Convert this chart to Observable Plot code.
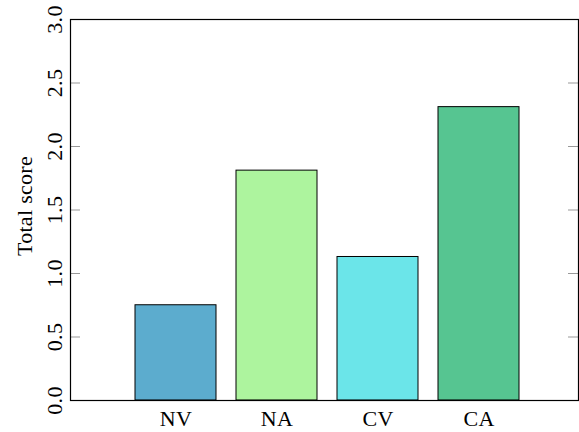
<!DOCTYPE html>
<html>
<head>
<meta charset="utf-8">
<script src="https://cdn.jsdelivr.net/npm/d3@7"></script>
<script src="https://cdn.jsdelivr.net/npm/@observablehq/plot@0.6"></script>
<style>
  html, body { margin: 0; padding: 0; background: #fff; }
  #chart svg { display: block; }
</style>
</head>
<body>
<div id="chart"></div>
<script>
// Total score per condition
const categories = ["NV", "NA", "CV", "CA"];
const scores = [0.75, 1.81, 1.13, 2.31];
const barColors = ["#5CACCE", "#ADF49E", "#6BE5E9", "#56C591"];
const yTicks = [0, 0.5, 1.0, 1.5, 2.0, 2.5, 3.0];
const yLabel = "Total score";

const data = categories.map((c, i) => ({category: c, score: scores[i]}));

const W = 579, H = 432;
const mL = 70, mR = 1, mT = 19, mB = 32;
const font = "'Liberation Serif', 'Times New Roman', serif";

const chart = Plot.plot({
  width: W,
  height: H,
  marginLeft: mL,
  marginRight: mR,
  marginTop: mT,
  marginBottom: mB,
  style: {fontFamily: font, fontSize: "22px", background: "#fff", color: "#000", letterSpacing: "0.3px"},
  x: {domain: categories, range: [123, 530], paddingInner: 0.2, paddingOuter: 0.1, axis: null},
  y: {domain: [0, 3], axis: null},
  color: {domain: categories, range: barColors},
  marks: [
    // bars
    Plot.barY(data, {x: "category", y: "score", fill: "category", stroke: "#000", strokeWidth: 1}),
    // inward tick marks on both sides
    Plot.tickY(yTicks, {y: d => d, stroke: "#999", strokeWidth: 1, insetRight: W - mL - mR - 10}),
    Plot.tickY(yTicks, {y: d => d, stroke: "#999", strokeWidth: 1, insetLeft: W - mL - mR - 10}),
    // rotated y tick labels
    Plot.text(yTicks, {
      y: d => d, text: d => d.toFixed(1), frameAnchor: "left", dx: -9,
      rotate: -90, textAnchor: "middle", lineAnchor: "bottom", fontSize: 22, fill: "#000"
    }),
    // category labels
    Plot.text(data, {
      x: "category", text: "category", frameAnchor: "bottom", dy: 18,
      lineAnchor: "middle", fontSize: 22, fill: "#000"
    }),
    // y axis title
    Plot.text([yLabel], {
      text: d => d, frameAnchor: "left", dx: -46, dy: -4, rotate: -90,
      textAnchor: "middle", lineAnchor: "middle", fontSize: 22, fill: "#000"
    }),
    Plot.frame({stroke: "#000", strokeWidth: 1.2})
  ]
});

document.getElementById("chart").appendChild(chart);
</script>
</body>
</html>
